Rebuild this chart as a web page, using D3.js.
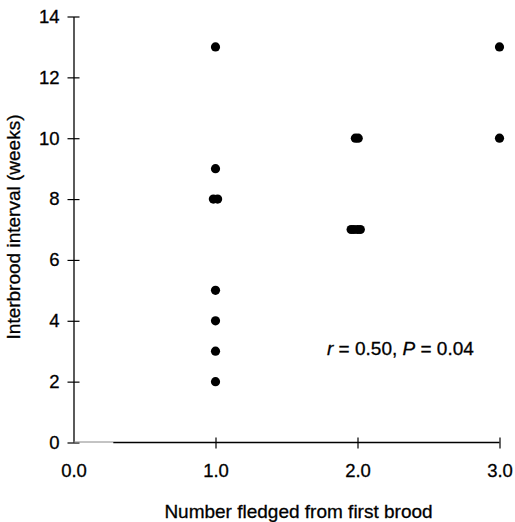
<!DOCTYPE html>
<html>
<head>
<meta charset="utf-8">
<script src="https://cdn.jsdelivr.net/npm/d3@7"></script>
<style>
  html, body { margin: 0; padding: 0; background: #fff; }
  svg text { font-family: "Liberation Sans", Arial, Helvetica, sans-serif; fill: #000; stroke: #000; stroke-width: 0.3px; }
</style>
</head>
<body>
<svg id="chart" width="515" height="522"></svg>
<script>
// Number fledged from the first brood (slightly offset where nests coincide)
const fledged  = [1, 1, 0.985, 1.015, 1, 1, 1, 1, 1.985, 2.005, 1.955, 1.975, 2.0, 2.02, 3, 3];
// Interbrood interval in weeks
const interval = [13, 9, 8, 8, 5, 4, 3, 2, 10, 10, 7, 7, 7, 7, 13, 10];

const xTicks = [0, 1, 2, 3];
const yTicks = [0, 2, 4, 6, 8, 10, 12, 14];
const xTitle = "Number fledged from first brood";
const yTitle = "Interbrood interval (weeks)";

const svg = d3.select("#chart");
const margin = { left: 73.5, right: 15.5, top: 16.5, bottom: 79.5 };
const W = 515, H = 522;

const x = d3.scaleLinear().domain([0, 3]).range([margin.left, W - margin.right]);
const y = d3.scaleLinear().domain([0, 14]).range([H - margin.bottom, margin.top]);

const tickFont = 18.5;
const titleFont = 19;

// y axis: line plus ticks crossing it
const yAxis = svg.append("g").attr("transform", `translate(${x(0)},0)`)
  .call(d3.axisLeft(y).tickValues(yTicks).tickSizeOuter(0).tickFormat(d3.format("d")));
yAxis.select(".domain").attr("stroke", "#000").attr("stroke-width", 1.3);
yAxis.selectAll(".tick line").attr("x2", 6).attr("x1", -6).attr("stroke-width", 1.2);
yAxis.selectAll(".tick text").attr("x", -14).attr("font-size", tickFont)
  .attr("font-family", "Liberation Sans, Arial, sans-serif").attr("fill", "#000");

// x axis: ticks and labels, the baseline drawn separately
const xAxis = svg.append("g").attr("transform", `translate(0,${y(0)})`)
  .call(d3.axisBottom(x).tickValues(xTicks).tickSizeOuter(0).tickFormat(d3.format(".1f")));
xAxis.select(".domain").remove();
xAxis.selectAll(".tick line").attr("y1", -5).attr("y2", 6).attr("stroke-width", 1.2);
xAxis.selectAll(".tick").filter(d => d === 0).select("line").remove();
xAxis.selectAll(".tick text").attr("y", 0).attr("dy", "34px").attr("font-size", tickFont)
  .attr("font-family", "Liberation Sans, Arial, sans-serif").attr("fill", "#000");

svg.append("line")
  .attr("x1", x(0)).attr("x2", x(0.28))
  .attr("y1", y(0) - 0.5).attr("y2", y(0) - 0.5)
  .attr("stroke", "#888").attr("stroke-width", 1);
svg.append("line")
  .attr("x1", x(0.28)).attr("x2", x(3))
  .attr("y1", y(0)).attr("y2", y(0))
  .attr("stroke", "#000").attr("stroke-width", 1.3);

// points
svg.append("g").selectAll("circle")
  .data(fledged.map((f, i) => ({ f, v: interval[i] })))
  .join("circle")
  .attr("cx", d => x(d.f))
  .attr("cy", d => y(d.v))
  .attr("r", 4.6)
  .attr("fill", "#000");

// axis titles
svg.append("text")
  .attr("x", (x(0) + x(3)) / 2 + 12)
  .attr("y", 518)
  .attr("text-anchor", "middle")
  .attr("font-size", titleFont)
  .text(xTitle);

svg.append("text")
  .attr("transform", `translate(20,227) rotate(-90)`)
  .attr("text-anchor", "middle")
  .attr("font-size", titleFont)
  .text(yTitle);

// correlation note
const note = svg.append("text")
  .attr("x", 327)
  .attr("y", 355)
  .attr("font-size", titleFont)
  .attr("xml:space", "preserve");
note.append("tspan").attr("font-style", "italic").text("r");
note.append("tspan").text(" = 0.50, ");
note.append("tspan").attr("font-style", "italic").text("P");
note.append("tspan").text(" = 0.04");
</script>
</body>
</html>
